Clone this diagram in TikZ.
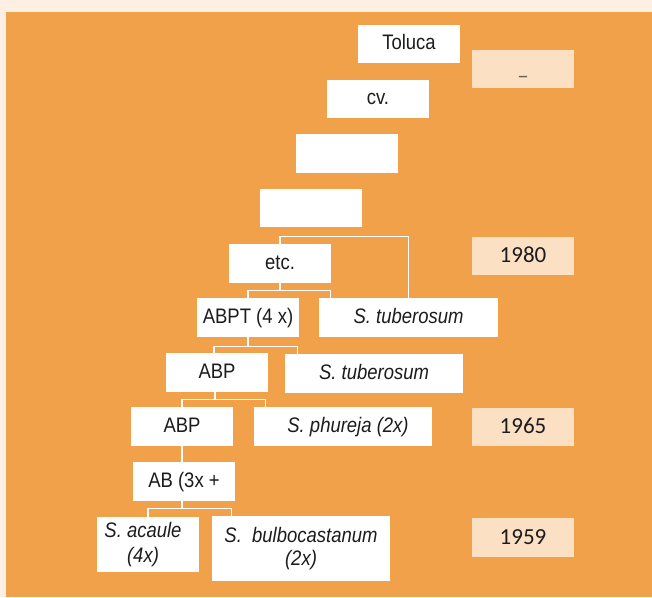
\documentclass[tikz,border=0pt]{standalone}
\usepackage{fontspec}
\setmainfont{Liberation Sans}[FakeStretch=0.88]
\newfontfamily\yearfont{Carlito}
\definecolor{cream}{HTML}{FDEFE2}
\definecolor{orangebg}{HTML}{F2A14B}
\definecolor{peach}{HTML}{FCE0C4}
\definecolor{txt}{HTML}{1C1C1C}
\definecolor{dashgrey}{HTML}{6E5F52}
\tikzset{
  plainbox/.style={fill=white, inner sep=0pt, minimum width=102pt, minimum height=39pt,
    font=\fontsize{21}{25}\selectfont, text=txt},
  box/.style={plainbox, text height=15pt, text depth=4pt},
  wbox/.style={box, minimum width=178pt},
  yearbox/.style={fill=peach, inner sep=0pt, minimum width=102pt, minimum height=38pt,
    font=\yearfont\fontsize{23}{26}\selectfont, text=txt, text height=17pt, text depth=4pt},
  conn/.style={draw=white, line width=1.2pt}
}
\begin{document}
\begin{tikzpicture}[x=1pt,y=-1pt]
\fill[cream] (0,0) rectangle (652,597);
\fill[orangebg] (6,12) rectangle (652,597);
\useasboundingbox (0,0) rectangle (652,597);

% tree boxes
\node[box, minimum height=38pt] (toluca) at (409,44) {Toluca};
\node[box, minimum height=38pt] (cv) at (378,99) {cv.};
\node[box] (blankA) at (347,153.5) {};
\node[box, minimum height=38pt] (blankB) at (311,208) {};
\node[box] (etc) at (280,263.5) {etc.};
\node[box] (abpt) at (248,317.5) {ABPT (4 x)};
\node[box, minimum width=179pt] (tub1) at (408.5,317.5) {\textit{S. tuberosum}};
\node[box] (abp1) at (217,372.5) {ABP};
\node[wbox] (tub2) at (374,373.5) {\textit{S. tuberosum}};
\node[box] (abp2) at (182,426.5) {ABP};
\node[wbox] (phu) at (343,426.5) {\hspace*{10pt}\textit{S. phureja (2x)}};
\node[box] (ab) at (184,481.5) {AB (3x +};
\node[plainbox, minimum height=55pt, align=center, font=\fontsize{21}{25}\selectfont\itshape]
  (acaule) at (148,544.5) {S. acaule\hspace*{10pt}\\(4x)\hspace*{10pt}};
\node[plainbox, minimum width=178pt, minimum height=65pt, align=center, font=\fontsize{21}{23.5}\selectfont\itshape]
  (bulbo) at (301,548.5) {S.\ \ bulbocastanum\\(2x)};

% year boxes
\node[yearbox] (ydash) at (523,69) {\textcolor{dashgrey}{\raisebox{-8pt}{–}}};
\node[yearbox] (y1980) at (523,256) {1980};
\node[yearbox] (y1965) at (523,427) {1965};
\node[yearbox, minimum height=39pt] (y1959) at (523,537.5) {1959};

% connectors
\draw[conn] (etc.north) -- ++(0,-7) -| (tub1.north);
\draw[conn] (etc.south) -- ++(0,8);
\draw[conn] (abpt.north) |- ([shift={(12,-7)}]tub1.north west) -- ([xshift=12pt]tub1.north west);
\draw[conn] (abpt.south) -- ++(0,9.5);
\draw[conn] ([xshift=-3pt]abp1.north) |- ([shift={(13,-7)}]tub2.north west) -- ([xshift=13pt]tub2.north west);
\draw[conn] ([xshift=-2pt]abp1.south) -- ++(0,8);
\draw[conn] (abp2.north) |- ([shift={(12,-7)}]phu.north west) -- ([xshift=12pt]phu.north west);
\draw[conn] (abp2.south) -- (abp2.south |- ab.north);
\draw[conn] ([xshift=-2pt]ab.south) -- ++(0,8);
\draw[conn] (acaule.north) |- ([shift={(20,-7)}]bulbo.north west) -- ([xshift=20pt]bulbo.north west);
\end{tikzpicture}
\end{document}
